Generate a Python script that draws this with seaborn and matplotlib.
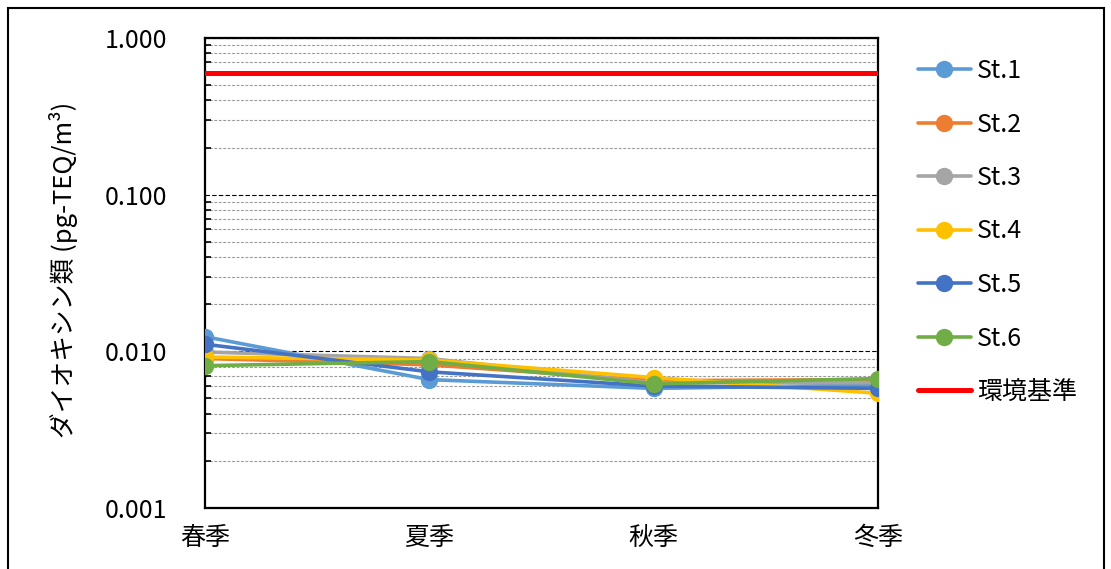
import numpy as np
import pandas as pd
import matplotlib
matplotlib.use("Agg")
import matplotlib.pyplot as plt
from matplotlib.patches import Rectangle
from matplotlib.lines import Line2D
from matplotlib.ticker import LogLocator, NullFormatter, FuncFormatter
import seaborn as sns

# Seasonal dioxin concentrations per station (pg-TEQ/m3)
seasons = ["春季", "夏季", "秋季", "冬季"]
stations = ["St.1", "St.2", "St.3", "St.4", "St.5", "St.6"]
st1 = [0.0124, 0.0066, 0.0058, 0.0061]
st2 = [0.0090, 0.0082, 0.0065, 0.0066]
st3 = [0.0099, 0.0090, 0.0063, 0.0063]
st4 = [0.0092, 0.0088, 0.0068, 0.0054]
st5 = [0.0111, 0.0074, 0.0060, 0.0058]
st6 = [0.0081, 0.0086, 0.0062, 0.0067]
standard_value = 0.6
standard_label = "環境基準"
ylabel = "ダイオキシン類 (pg-TEQ/m³)"

colors = ["#5B9BD5", "#ED7D31", "#A5A5A5", "#FFC000", "#4472C4", "#70AD47"]

sns.set_theme(style="white")
plt.rcParams["font.family"] = ["Noto Sans CJK JP", "DejaVu Sans"]

series = [st1, st2, st3, st4, st5, st6]
df = pd.DataFrame({
    "season_idx": np.tile(np.arange(len(seasons)), len(stations)),
    "value": np.concatenate(series),
    "station": np.repeat(stations, len(seasons)),
})

fig = plt.figure(figsize=(11.11, 5.69), dpi=100)
ax = fig.add_axes([205 / 1111, 1 - 508 / 569, 673 / 1111, 470 / 569])

sns.lineplot(data=df, x="season_idx", y="value", hue="station",
             palette=colors, hue_order=stations, marker="o",
             markersize=12.5, markeredgewidth=0, linewidth=2.6,
             ax=ax, legend=False, zorder=3)
ax.axhline(standard_value, color="#FF0000", linewidth=3.6, zorder=5,
           solid_capstyle="round")

ax.set_yscale("log")
ax.set_ylim(0.001, 1.0)
ax.set_xlim(0, len(seasons) - 1)

# gridlines: black dashes at decades, grey dashes at minor steps
ax.yaxis.set_major_locator(LogLocator(base=10, numticks=10))
ax.yaxis.set_minor_locator(LogLocator(base=10, subs=np.arange(2, 10), numticks=20))
ax.yaxis.set_major_formatter(FuncFormatter(lambda v, p: f"{v:.3f}"))
ax.yaxis.set_minor_formatter(NullFormatter())
ax.grid(which="major", axis="y", color="black", linestyle=(0, (4, 2)), linewidth=0.8)
ax.grid(which="minor", axis="y", color="#9A9A9A", linestyle=(0, (2.5, 1.5)), linewidth=0.8)
ax.grid(which="major", axis="x", visible=False)
ax.set_axisbelow(True)

ax.set_xticks(range(len(seasons)))
ax.set_xticklabels(seasons)
ax.tick_params(axis="x", which="major", direction="in", length=6, width=1,
               color="black", pad=12, labelsize=18, labelcolor="black")
ax.tick_params(axis="y", which="major", direction="in", length=6, width=1.2,
               color="black", pad=27, labelsize=18, labelcolor="black")
ax.tick_params(axis="y", which="minor", direction="in", length=4, width=1.2,
               color="black", left=True)

for side in ["left", "bottom", "right", "top"]:
    ax.spines[side].set_visible(True)
    ax.spines[side].set_color("black")
    ax.spines[side].set_linewidth(1.6)

ax.set_xlabel("")
ax.set_ylabel("")
fig.text(64 / 1111, 1 - 270 / 569, ylabel, rotation=90, ha="center", va="center",
         fontsize=18.5, color="black")

# legend
handles = [Line2D([0], [0], color=c, linewidth=2.6, marker="o", markersize=12.5,
                  markeredgewidth=0) for c in colors]
handles.append(Line2D([0], [0], color="#FF0000", linewidth=3.6, solid_capstyle="round"))
labels = stations + [standard_label]
leg = fig.legend(handles, labels, loc="upper left",
                 bbox_to_anchor=(918 / 1111, 1 - 58 / 569), frameon=False,
                 fontsize=18, handlelength=2.1, handletextpad=0.25,
                 labelspacing=1.1, borderpad=0, borderaxespad=0)
for t in leg.get_texts():
    t.set_color("black")

# outer chart border
fig.add_artist(Rectangle((8 / 1111, -0.05), 1096 / 1111, 1.05 - 8 / 569,
                         transform=fig.transFigure, fill=False,
                         edgecolor="black", linewidth=1.5))

fig.savefig("out.png", dpi=100, facecolor="white")
